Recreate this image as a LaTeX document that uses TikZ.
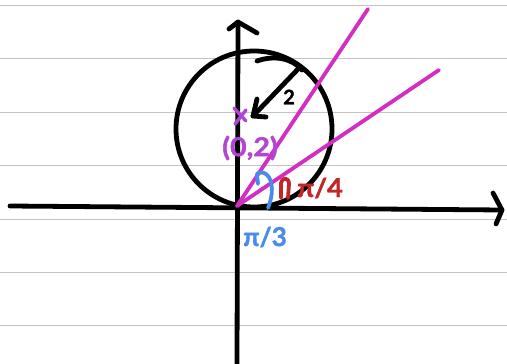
\documentclass[tikz,border=0pt]{standalone}
\usepackage{fontspec}
\setmainfont{Lato}
\newfontfamily\handfont{Lato}[BoldFeatures={FakeBold=1.5}]
\usetikzlibrary{arrows.meta}
\definecolor{inkmag}{HTML}{D22EC6}
\definecolor{inkpurple}{HTML}{B246D2}
\definecolor{inkred}{HTML}{C02828}
\definecolor{inkblue}{HTML}{4A8BEA}
\definecolor{ruleline}{HTML}{C4C4C4}
\tikzset{
  pen/.style={line width=4.8pt, line cap=round, line join=round},
  blackpen/.style={pen, black},
  magpen/.style={line width=3.8pt, line cap=round, line join=round, inkmag},
  paperline/.style={ruleline, line width=1pt},
  hand/.style={font=\handfont\bfseries\fontsize{26}{26}\selectfont, inner sep=0pt}
}
\begin{document}
\begin{tikzpicture}[x=1pt,y=-1pt]
\useasboundingbox (0,0) rectangle (507,364);
\fill[white] (0,0) rectangle (507,364);
% lined paper
\foreach \yy in {5,58,112,165,219,272,325}{
  \draw[paperline] (0,\yy) -- (507,\yy);
}
% coordinates
\coordinate (O) at (237,206);
\coordinate (xl) at (10,206);
\coordinate (xr) at (502,210);
\coordinate (yb) at (237,364);
\coordinate (yt) at (238,22);
\coordinate (C) at (254,129);
\coordinate (L1) at (368,9);
\coordinate (L2) at (439,70);
% axes
\draw[blackpen] (xl) -- (xr);
\draw[blackpen] (493,193) -- (xr) -- (496,224);
\draw[blackpen] (yb) -- (yt);
\draw[blackpen] (229,29) -- (yt) -- (257,33);
% circle
\draw[blackpen] (C) circle[radius=78];
\draw[blackpen] (257,61) .. controls (274,55) and (292,58) .. (302,70);
% radius arrow
\coordinate (rs) at (299,68);
\coordinate (rt) at (253,116);
\draw[blackpen] (rs) -- (rt);
\draw[blackpen] (257,99) -- (rt) -- (266,117);
\node[hand, font=\handfont\bfseries\fontsize{20}{20}\selectfont] (two) at (289,97) {2};
% magenta lines
\draw[magpen] (O) -- (L1);
\draw[magpen] (O) -- (L2);
% centre mark
\draw[line width=3.4pt, line cap=round, inkpurple] (234,108) -- (246,121);
\draw[line width=3.4pt, line cap=round, inkpurple] (246,110) -- (235,124);
\node[hand, inkpurple, xscale=1.1] (cpt) at (250,148) {(0,2)};
% red angle mark
\draw[line width=3.8pt, line cap=round, line join=round, inkred] (281,198) -- (281,183) .. controls (282,177) and (289,177) .. (289,184) -- (288,198);
\node[hand, inkred, xscale=1.05] (q4) at (320,188) {π/4};
% blue angle mark
\draw[line width=3.8pt, line cap=round, line join=round, inkblue] (268,208) .. controls (273,196) and (274,180) .. (266,174) .. controls (263,172) and (259,172) .. (257,174) -- (258,184);
\node[hand, inkblue] (q3) at (265,237) {π/3};
\end{tikzpicture}
\end{document}
